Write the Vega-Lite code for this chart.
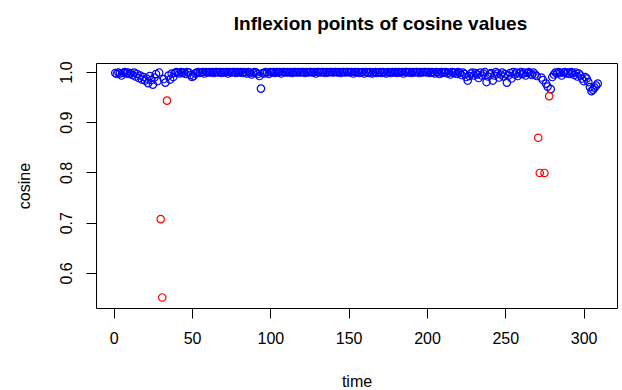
{
  "$schema": "https://vega.github.io/schema/vega-lite/v6.json",
  "autosize": {"type": "none"},
  "width": 521,
  "height": 245,
  "padding": {"left": 96, "top": 63, "right": 5, "bottom": 82},
  "background": "white",
  "config": {
    "font": "Liberation Sans",
    "view": {"stroke": "black", "strokeWidth": 1},
    "axis": {"grid": false, "domain": false, "tickColor": "black", "tickSize": 10, "labelColor": "black", "labelFontSize": 16, "titleFontSize": 16, "titleFontWeight": "normal", "titleColor": "black", "labelFont": "Liberation Sans", "titleFont": "Liberation Sans"}
  },
  "title": {"text": "Inflexion points of cosine values", "fontSize": 19, "fontWeight": "bold", "font": "Liberation Sans", "color": "black", "baseline": "alphabetic", "offset": 12, "dx": 24, "anchor": "middle"},
  "data": {"values": [
    {"t":1,"c":0.998,"s":"blue"},{"t":2,"c":0.996,"s":"blue"},{"t":3,"c":0.999,"s":"blue"},{"t":4,"c":0.997,"s":"blue"},{"t":5,"c":0.993,"s":"blue"},{"t":6,"c":0.998,"s":"blue"},{"t":7,"c":1.0,"s":"blue"},{"t":8,"c":0.997,"s":"blue"},{"t":9,"c":0.999,"s":"blue"},{"t":10,"c":0.996,"s":"blue"},
    {"t":11,"c":0.998,"s":"blue"},{"t":12,"c":0.994,"s":"blue"},{"t":13,"c":0.999,"s":"blue"},{"t":14,"c":0.991,"s":"blue"},{"t":15,"c":0.996,"s":"blue"},{"t":16,"c":0.988,"s":"blue"},{"t":17,"c":0.993,"s":"blue"},{"t":18,"c":0.985,"s":"blue"},{"t":19,"c":0.990,"s":"blue"},{"t":20,"c":0.983,"s":"blue"},
    {"t":21,"c":0.987,"s":"blue"},{"t":22,"c":0.978,"s":"blue"},{"t":23,"c":0.992,"s":"blue"},{"t":24,"c":0.984,"s":"blue"},{"t":25,"c":0.975,"s":"blue"},{"t":26,"c":0.989,"s":"blue"},{"t":27,"c":0.996,"s":"blue"},{"t":28,"c":0.982,"s":"blue"},{"t":29,"c":0.999,"s":"blue"},
    {"t":32,"c":0.986,"s":"blue"},{"t":33,"c":0.979,"s":"blue"},
    {"t":35,"c":0.993,"s":"blue"},{"t":36,"c":0.985,"s":"blue"},{"t":37,"c":0.997,"s":"blue"},{"t":38,"c":0.990,"s":"blue"},{"t":39,"c":0.998,"s":"blue"},{"t":40,"c":1.0,"s":"blue"},
    {"t":41,"c":0.999,"s":"blue"},{"t":42,"c":0.997,"s":"blue"},{"t":43,"c":1.0,"s":"blue"},{"t":44,"c":0.998,"s":"blue"},{"t":45,"c":0.999,"s":"blue"},{"t":46,"c":0.996,"s":"blue"},{"t":47,"c":1.0,"s":"blue"},{"t":48,"c":0.999,"s":"blue"},{"t":49,"c":0.994,"s":"blue"},{"t":50,"c":0.990,"s":"blue"},
    {"t":51,"c":0.992,"s":"blue"},{"t":52,"c":0.997,"s":"blue"},{"t":53,"c":0.999,"s":"blue"},{"t":54,"c":1.0,"s":"blue"},{"t":55,"c":0.998,"s":"blue"},{"t":56,"c":0.999,"s":"blue"},{"t":57,"c":1.0,"s":"blue"},{"t":58,"c":0.997,"s":"blue"},{"t":59,"c":1.0,"s":"blue"},{"t":60,"c":0.999,"s":"blue"},
    {"t":61,"c":1.0,"s":"blue"},{"t":62,"c":0.999,"s":"blue"},{"t":63,"c":1.0,"s":"blue"},{"t":64,"c":0.998,"s":"blue"},{"t":65,"c":1.0,"s":"blue"},{"t":66,"c":1.0,"s":"blue"},{"t":67,"c":0.999,"s":"blue"},{"t":68,"c":1.0,"s":"blue"},{"t":69,"c":0.998,"s":"blue"},{"t":70,"c":1.0,"s":"blue"},
    {"t":71,"c":0.999,"s":"blue"},{"t":72,"c":1.0,"s":"blue"},{"t":73,"c":0.997,"s":"blue"},{"t":74,"c":1.0,"s":"blue"},{"t":75,"c":0.999,"s":"blue"},{"t":76,"c":1.0,"s":"blue"},{"t":77,"c":1.0,"s":"blue"},{"t":78,"c":0.998,"s":"blue"},{"t":79,"c":1.0,"s":"blue"},{"t":80,"c":0.999,"s":"blue"},
    {"t":81,"c":1.0,"s":"blue"},{"t":82,"c":0.998,"s":"blue"},{"t":83,"c":1.0,"s":"blue"},{"t":84,"c":0.999,"s":"blue"},{"t":85,"c":0.997,"s":"blue"},{"t":86,"c":1.0,"s":"blue"},{"t":87,"c":0.999,"s":"blue"},{"t":88,"c":0.995,"s":"blue"},{"t":89,"c":0.998,"s":"blue"},{"t":90,"c":1.0,"s":"blue"},
    {"t":91,"c":0.999,"s":"blue"},{"t":92,"c":0.996,"s":"blue"},{"t":93,"c":0.992,"s":"blue"},{"t":94,"c":0.967,"s":"blue"},{"t":95,"c":0.998,"s":"blue"},{"t":96,"c":0.997,"s":"blue"},{"t":97,"c":1.0,"s":"blue"},{"t":98,"c":0.999,"s":"blue"},{"t":99,"c":0.996,"s":"blue"},{"t":100,"c":1.0,"s":"blue"},
    {"t":101,"c":0.999,"s":"blue"},{"t":102,"c":1.0,"s":"blue"},{"t":103,"c":0.998,"s":"blue"},{"t":104,"c":1.0,"s":"blue"},{"t":105,"c":0.999,"s":"blue"},{"t":106,"c":1.0,"s":"blue"},{"t":107,"c":0.997,"s":"blue"},{"t":108,"c":1.0,"s":"blue"},{"t":109,"c":1.0,"s":"blue"},{"t":110,"c":0.999,"s":"blue"},
    {"t":111,"c":1.0,"s":"blue"},{"t":112,"c":0.999,"s":"blue"},{"t":113,"c":1.0,"s":"blue"},{"t":114,"c":0.998,"s":"blue"},{"t":115,"c":1.0,"s":"blue"},{"t":116,"c":1.0,"s":"blue"},{"t":117,"c":0.999,"s":"blue"},{"t":118,"c":1.0,"s":"blue"},{"t":119,"c":0.999,"s":"blue"},{"t":120,"c":1.0,"s":"blue"},
    {"t":121,"c":1.0,"s":"blue"},{"t":122,"c":0.998,"s":"blue"},{"t":123,"c":1.0,"s":"blue"},{"t":124,"c":0.999,"s":"blue"},{"t":125,"c":1.0,"s":"blue"},{"t":126,"c":1.0,"s":"blue"},{"t":127,"c":0.999,"s":"blue"},{"t":128,"c":1.0,"s":"blue"},{"t":129,"c":0.997,"s":"blue"},{"t":130,"c":1.0,"s":"blue"},
    {"t":131,"c":1.0,"s":"blue"},{"t":132,"c":0.999,"s":"blue"},{"t":133,"c":1.0,"s":"blue"},{"t":134,"c":1.0,"s":"blue"},{"t":135,"c":0.998,"s":"blue"},{"t":136,"c":1.0,"s":"blue"},{"t":137,"c":0.999,"s":"blue"},{"t":138,"c":1.0,"s":"blue"},{"t":139,"c":1.0,"s":"blue"},{"t":140,"c":0.999,"s":"blue"},
    {"t":141,"c":1.0,"s":"blue"},{"t":142,"c":1.0,"s":"blue"},{"t":143,"c":0.999,"s":"blue"},{"t":144,"c":1.0,"s":"blue"},{"t":145,"c":0.998,"s":"blue"},{"t":146,"c":1.0,"s":"blue"},{"t":147,"c":1.0,"s":"blue"},{"t":148,"c":0.999,"s":"blue"},{"t":149,"c":1.0,"s":"blue"},{"t":150,"c":1.0,"s":"blue"},
    {"t":151,"c":0.999,"s":"blue"},{"t":152,"c":1.0,"s":"blue"},{"t":153,"c":0.997,"s":"blue"},{"t":154,"c":1.0,"s":"blue"},{"t":155,"c":0.999,"s":"blue"},{"t":156,"c":1.0,"s":"blue"},{"t":157,"c":0.998,"s":"blue"},{"t":158,"c":0.999,"s":"blue"},{"t":159,"c":1.0,"s":"blue"},{"t":160,"c":0.997,"s":"blue"},
    {"t":161,"c":1.0,"s":"blue"},{"t":162,"c":0.999,"s":"blue"},{"t":163,"c":0.998,"s":"blue"},{"t":164,"c":1.0,"s":"blue"},{"t":165,"c":0.997,"s":"blue"},{"t":166,"c":0.999,"s":"blue"},{"t":167,"c":1.0,"s":"blue"},{"t":168,"c":0.998,"s":"blue"},{"t":169,"c":0.999,"s":"blue"},{"t":170,"c":1.0,"s":"blue"},
    {"t":171,"c":0.998,"s":"blue"},{"t":172,"c":1.0,"s":"blue"},{"t":173,"c":0.999,"s":"blue"},{"t":174,"c":0.997,"s":"blue"},{"t":175,"c":1.0,"s":"blue"},{"t":176,"c":0.999,"s":"blue"},{"t":177,"c":0.998,"s":"blue"},{"t":178,"c":1.0,"s":"blue"},{"t":179,"c":0.999,"s":"blue"},{"t":180,"c":1.0,"s":"blue"},
    {"t":181,"c":0.998,"s":"blue"},{"t":182,"c":1.0,"s":"blue"},{"t":183,"c":0.999,"s":"blue"},{"t":184,"c":1.0,"s":"blue"},{"t":185,"c":0.997,"s":"blue"},{"t":186,"c":1.0,"s":"blue"},{"t":187,"c":1.0,"s":"blue"},{"t":188,"c":0.999,"s":"blue"},{"t":189,"c":1.0,"s":"blue"},{"t":190,"c":0.998,"s":"blue"},
    {"t":191,"c":1.0,"s":"blue"},{"t":192,"c":0.999,"s":"blue"},{"t":193,"c":1.0,"s":"blue"},{"t":194,"c":1.0,"s":"blue"},{"t":195,"c":0.998,"s":"blue"},{"t":196,"c":1.0,"s":"blue"},{"t":197,"c":0.999,"s":"blue"},{"t":198,"c":1.0,"s":"blue"},{"t":199,"c":1.0,"s":"blue"},{"t":200,"c":0.999,"s":"blue"},
    {"t":201,"c":1.0,"s":"blue"},{"t":202,"c":0.998,"s":"blue"},{"t":203,"c":1.0,"s":"blue"},{"t":204,"c":0.999,"s":"blue"},{"t":205,"c":0.997,"s":"blue"},{"t":206,"c":1.0,"s":"blue"},{"t":207,"c":0.999,"s":"blue"},{"t":208,"c":0.996,"s":"blue"},{"t":209,"c":1.0,"s":"blue"},{"t":210,"c":0.998,"s":"blue"},
    {"t":211,"c":0.999,"s":"blue"},{"t":212,"c":1.0,"s":"blue"},{"t":213,"c":0.997,"s":"blue"},{"t":214,"c":0.999,"s":"blue"},{"t":215,"c":0.995,"s":"blue"},{"t":216,"c":1.0,"s":"blue"},{"t":217,"c":0.998,"s":"blue"},{"t":218,"c":0.999,"s":"blue"},{"t":219,"c":0.996,"s":"blue"},{"t":220,"c":1.0,"s":"blue"},
    {"t":221,"c":0.998,"s":"blue"},{"t":222,"c":0.994,"s":"blue"},{"t":223,"c":0.999,"s":"blue"},{"t":224,"c":0.996,"s":"blue"},{"t":225,"c":0.990,"s":"blue"},{"t":226,"c":0.983,"s":"blue"},{"t":227,"c":0.992,"s":"blue"},{"t":228,"c":0.997,"s":"blue"},{"t":229,"c":0.999,"s":"blue"},{"t":230,"c":0.993,"s":"blue"},
    {"t":231,"c":0.998,"s":"blue"},{"t":232,"c":0.995,"s":"blue"},{"t":233,"c":0.988,"s":"blue"},{"t":234,"c":0.999,"s":"blue"},{"t":235,"c":0.993,"s":"blue"},{"t":236,"c":0.997,"s":"blue"},{"t":237,"c":1.0,"s":"blue"},{"t":238,"c":0.980,"s":"blue"},{"t":239,"c":0.991,"s":"blue"},{"t":240,"c":0.996,"s":"blue"},
    {"t":241,"c":0.998,"s":"blue"},{"t":242,"c":0.983,"s":"blue"},{"t":243,"c":0.993,"s":"blue"},{"t":244,"c":1.0,"s":"blue"},{"t":245,"c":0.997,"s":"blue"},{"t":246,"c":0.989,"s":"blue"},{"t":247,"c":0.995,"s":"blue"},{"t":248,"c":0.999,"s":"blue"},{"t":249,"c":0.991,"s":"blue"},{"t":250,"c":0.996,"s":"blue"},
    {"t":251,"c":0.979,"s":"blue"},{"t":252,"c":0.993,"s":"blue"},{"t":253,"c":0.998,"s":"blue"},{"t":254,"c":0.987,"s":"blue"},{"t":255,"c":1.0,"s":"blue"},{"t":256,"c":0.995,"s":"blue"},{"t":257,"c":0.999,"s":"blue"},{"t":258,"c":0.992,"s":"blue"},{"t":259,"c":0.997,"s":"blue"},{"t":260,"c":1.0,"s":"blue"},
    {"t":261,"c":0.996,"s":"blue"},{"t":262,"c":0.999,"s":"blue"},{"t":263,"c":0.993,"s":"blue"},{"t":264,"c":0.998,"s":"blue"},{"t":265,"c":1.0,"s":"blue"},{"t":266,"c":0.997,"s":"blue"},{"t":267,"c":0.994,"s":"blue"},{"t":268,"c":0.999,"s":"blue"},{"t":269,"c":0.995,"s":"blue"},{"t":270,"c":0.992,"s":"blue"},
    {"t":273,"c":0.989,"s":"blue"},{"t":274,"c":0.984,"s":"blue"},{"t":276,"c":0.977,"s":"blue"},{"t":277,"c":0.971,"s":"blue"},{"t":279,"c":0.966,"s":"blue"},
    {"t":280,"c":0.990,"s":"blue"},{"t":281,"c":0.995,"s":"blue"},{"t":282,"c":0.999,"s":"blue"},{"t":283,"c":0.997,"s":"blue"},{"t":284,"c":1.0,"s":"blue"},{"t":285,"c":0.998,"s":"blue"},{"t":286,"c":0.993,"s":"blue"},{"t":287,"c":0.999,"s":"blue"},{"t":288,"c":1.0,"s":"blue"},{"t":289,"c":0.997,"s":"blue"},{"t":290,"c":0.999,"s":"blue"},
    {"t":291,"c":0.996,"s":"blue"},{"t":292,"c":1.0,"s":"blue"},{"t":293,"c":0.998,"s":"blue"},{"t":294,"c":0.994,"s":"blue"},{"t":295,"c":0.999,"s":"blue"},{"t":296,"c":0.991,"s":"blue"},{"t":297,"c":0.997,"s":"blue"},{"t":298,"c":0.993,"s":"blue"},{"t":299,"c":0.987,"s":"blue"},{"t":300,"c":0.982,"s":"blue"},
    {"t":301,"c":0.990,"s":"blue"},{"t":302,"c":0.987,"s":"blue"},{"t":303,"c":0.980,"s":"blue"},{"t":304,"c":0.970,"s":"blue"},{"t":305,"c":0.962,"s":"blue"},{"t":306,"c":0.965,"s":"blue"},{"t":307,"c":0.969,"s":"blue"},{"t":308,"c":0.973,"s":"blue"},{"t":309,"c":0.977,"s":"blue"},
    {"t":30,"c":0.707,"s":"red"},{"t":31,"c":0.551,"s":"red"},{"t":34,"c":0.943,"s":"red"},
    {"t":271,"c":0.869,"s":"red"},{"t":272,"c":0.799,"s":"red"},{"t":275,"c":0.799,"s":"red"},{"t":278,"c":0.952,"s":"red"}
  ]},
  "mark": {"type": "point", "filled": false, "size": 55, "strokeWidth": 1.2, "opacity": 1},
  "encoding": {
    "x": {"field": "t", "type": "quantitative", "scale": {"domain": [-11.3, 321.3], "nice": false, "zero": false},
      "axis": {"values": [0, 50, 100, 150, 200, 250, 300], "title": "time", "labelPadding": 12, "titleY": 78, "titleBaseline": "alphabetic"}},
    "y": {"field": "c", "type": "quantitative", "scale": {"domain": [0.53, 1.018], "nice": false, "zero": false},
      "axis": {"values": [0.6, 0.7, 0.8, 0.9, 1.0], "format": ".1f", "title": "cosine", "labelAngle": -90, "labelAlign": "center", "labelBaseline": "bottom", "labelPadding": 12, "titleAngle": -90, "titleX": -67, "titleY": 122.5, "titleAlign": "center", "titleBaseline": "alphabetic"}},
    "color": {"field": "s", "type": "nominal", "scale": {"domain": ["blue", "red"], "range": ["#0000FF", "#FF0000"]}, "legend": null}
  }
}
